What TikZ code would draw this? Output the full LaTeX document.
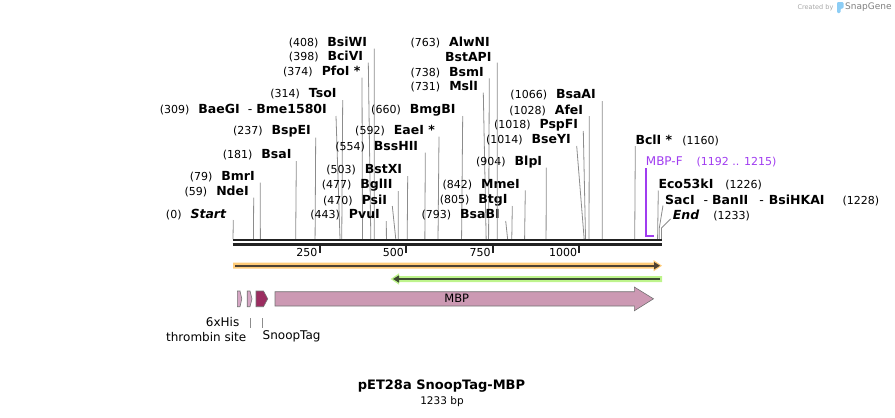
\documentclass[tikz,border=0pt]{standalone}
\usepackage{fontspec}
\setmainfont{DejaVu Sans}
\usetikzlibrary{arrows.meta, calc}

\newcommand{\numsize}{\fontsize{11}{13}\selectfont\mdseries}
\newcommand{\bpx}{0.34631}

\begin{document}
\begin{tikzpicture}[
    x=1pt,
    y=-1pt,
    enzlabel/.style={inner sep=0pt, font=\fontsize{12.5}{14}\selectfont\bfseries},
    featlabel/.style={inner sep=0pt, font=\fontsize{12}{14}\selectfont},
    siteline/.style={draw=siteGray, line width=0.8pt},
    featedge/.style={draw=black!55, line width=0.6pt}
]

\definecolor{siteGray}{RGB}{140,140,140}
\definecolor{barBlack}{RGB}{34,34,34}
\definecolor{orfOrange}{RGB}{255,203,120}
\definecolor{orfOrangeDark}{RGB}{78,66,52}
\definecolor{orfGreen}{RGB}{190,244,140}
\definecolor{orfGreenDark}{RGB}{62,76,50}
\definecolor{featPink}{RGB}{204,153,179}
\definecolor{featLight}{RGB}{214,166,196}
\definecolor{featDark}{RGB}{155,45,96}
\definecolor{primerPurple}{RGB}{160,60,240}
\definecolor{logoBlue}{RGB}{140,205,245}

\useasboundingbox (0,0) rectangle (895,418);

% Cut sites left of their line: position, name, text end, text middle, line top.
\foreach \bp/\enz/\tx/\ty/\lx [count=\i] in {
    408/BsiWI/367.3/42.7/374.3,
    398/BciVI/363.3/56.7/368.3,
    374/PfoI */360.7/71.7/362,
    314/TsoI/336.7/94/342.7,
    309/BaeGI\hspace{8pt}{\mdseries-}\hspace{4pt}Bme1580I/327/110/336,
    237/BspEI/311/131.7/315.7,
    181/BsaI/291.7/155/296.3,
    79/BmrI/255/176.7/260.3,
    59/NdeI/249/191.7/253.7,
    660/BmgBI/455.7/110/462.7,
    592/EaeI */435/130.7/439,
    554/BssHII/418.3/146.7/425.3,
    503/BstXI/402.3/170/407.7,
    477/BglII/392.7/185/398.3,
    470/PsiI/387.3/200/392.3,
    443/PvuI/380/215/386.3,
    738/BsmI/484/72.3/489.3,
    731/MslI/478.3/86.7/483.3,
    1066/BsaAI/596/95/602.3,
    1028/AfeI/583.3/110/589.3,
    1018/PspFI/578.3/125/583.3,
    1014/BseYI/571/140/576.7,
    904/BlpI/542.3/161.7/546.3,
    842/MmeI/520/184.3/525.3,
    805/BtgI/507.7/200/512.3,
    793/BsaBI/500/215/505.7} {
    \node[enzlabel, anchor=east] (L\i) at (\tx,\ty) {{\numsize(\bp)}\hspace{9pt}\enz};
    \coordinate (T\i) at (\lx,{\ty+6});
    \coordinate (B\i) at ({233+\bp*\bpx},239);
    \draw[siteline] (T\i) -- (B\i);
}

% Two names share site 763, with one line.
\node[enzlabel, anchor=east] (Lalw) at (490,42.7) {{\numsize(763)}\hspace{9pt}AlwNI};
\node[enzlabel, anchor=east] (Lbst) at (491.7,56.7) {BstAPI};
\coordinate (Tbst) at (497.3,62.7);
\coordinate (Bbst) at ({233+763*\bpx},239);
\draw[siteline] (Tbst) -- (Bbst);

\node[enzlabel, anchor=east] (Lstart) at (226.7,215) {{\numsize(0)}\hspace{9pt}\textit{Start}};
\coordinate (Tstart) at (233.3,220);
\coordinate (Bstart) at (233,239);
\draw[siteline] (Tstart) -- (Bstart);

% Sites at the right end, text to the right of the line.
\node[enzlabel, anchor=west] (Rbcl) at (635.3,140) {BclI *\hspace{10pt}{\numsize(1160)}};
\coordinate (Tbcl) at (635.3,146);
\coordinate (Bbcl) at ({233+1160*\bpx},239);
\draw[siteline] (Tbcl) -- (Bbcl);

\node[featlabel, anchor=west, text=primerPurple] (Rmbpf) at (645.7,162.3) {MBP-F\hspace{14pt}{\numsize(1192 .. 1215)}};
\coordinate (Pa) at ({233+1192*\bpx},168);
\coordinate (Pb) at ({233+1192*\bpx},236);
\coordinate (Pc) at ({233+1215*\bpx},236);
\draw[primerPurple, line width=1.8pt] (Pa) -- (Pb) -- (Pc);

\node[enzlabel, anchor=west] (Reco) at (658.3,184.3) {Eco53kI\hspace{12pt}{\numsize(1226)}};
\coordinate (Teco) at (658.3,190.5);
\coordinate (Beco) at ({233+1226*\bpx},239);
\draw[siteline] (Teco) -- (Beco);

\node[enzlabel, anchor=west] (Rsac) at (665,200) {SacI\hspace{9pt}{\mdseries-}\hspace{4pt}BanII\hspace{11pt}{\mdseries-}\hspace{5pt}BsiHKAI\hspace{18pt}{\numsize(1228)}};
\coordinate (Tsac) at (663,205.5);
\coordinate (Ksac) at (659.3,228);
\coordinate (Bsac) at (659.3,239);
\draw[siteline] (Tsac) -- (Ksac) -- (Bsac);

\node[enzlabel, anchor=west] (Rend) at (672.7,215) {\textit{End}\hspace{14pt}{\numsize(1233)}};
\coordinate (Tend) at (670.5,219);
\coordinate (Kend) at (661.5,228);
\coordinate (Bend) at (661.5,239);
\draw[siteline] (Tend) -- (Kend) -- (Bend);

% Double sequence line and scale.
\draw[barBlack, line width=2.3pt] (232.7,239.8) -- (661.7,239.8);
\draw[barBlack, line width=3pt] (232.7,244.5) -- (661.7,244.5);

\foreach \t in {250, 500, 750, 1000} {
    \coordinate (k\t) at ({233+\t*\bpx},245);
    \draw[barBlack, line width=2pt] (k\t) -- ++(0,7.5);
    \node[featlabel, font=\fontsize{11}{13}\selectfont, anchor=east] (kl\t) at ($(k\t)+(-2,7.5)$) {\t};
}

% Open reading frames.
\fill[orfOrange] (233,262.7) -- (653.5,262.7) -- (653.5,260) -- (662,265.7)
    -- (653.5,271.4) -- (653.5,268.7) -- (233,268.7) -- cycle;
\draw[orfOrangeDark, line width=1.8pt, -{Triangle[length=6pt, width=7pt]}] (235,265.7) -- (660,265.7);

\fill[orfGreen] (662,276) -- (399,276) -- (399,273.3) -- (390.7,279)
    -- (399,284.7) -- (399,282) -- (662,282) -- cycle;
\draw[orfGreenDark, line width=1.8pt, -{Triangle[length=6pt, width=7pt]}] (660,279) -- (393,279);

% Features.
\filldraw[fill=featLight, featedge] (237.3,291) -- (240,291) -- (241.8,298.8)
    -- (240,306.7) -- (237.3,306.7) -- cycle;
\filldraw[fill=featLight, featedge] (247.2,291) -- (250,291) -- (252,298.8)
    -- (250,306.7) -- (247.2,306.7) -- cycle;
\filldraw[fill=featDark, featedge] (256,291) -- (263.5,291) -- (267.7,298.8)
    -- (263.5,306.7) -- (256,306.7) -- cycle;
\filldraw[fill=featPink, featedge] (275,291.7) -- (634.3,291.7) -- (634.3,287)
    -- (653.5,298.8) -- (634.3,310.8) -- (634.3,306) -- (275,306) -- cycle;
\node[featlabel, font=\fontsize{11.5}{13}\selectfont] (mbp) at (456.7,298.8) {MBP};

\node[featlabel, anchor=east] (his) at (239.5,321.7) {6xHis};
\node[featlabel] (thr) at (206.2,336.7) {thrombin site};
\node[featlabel, anchor=west] (snp) at (262.5,336.7) {SnoopTag};
\coordinate (thrA) at (250.7,318);
\coordinate (thrB) at (250.7,327.7);
\coordinate (snpA) at (262.3,318);
\coordinate (snpB) at (262.3,327.7);
\draw[siteline] (thrA) -- (thrB);
\draw[siteline] (snpA) -- (snpB);

% Title.
\node[inner sep=0pt, font=\fontsize{13}{15}\selectfont\bfseries] (title) at (441.5,386) {pET28a SnoopTag-MBP};
\node[inner sep=0pt, font=\fontsize{10.5}{12}\selectfont] (len) at (442,402) {1233 bp};

% SnapGene mark.
\node[inner sep=0pt, font=\fontsize{6.5}{8}\selectfont, text=black!35] (made) at (815.5,7.5) {Created by};
\fill[logoBlue, rounded corners=1.2pt] (837,2) -- (843.5,2) -- (843.5,8.5) -- (840.5,8.5)
    -- (840.5,13) -- (837,13) -- cycle;
\node[inner sep=0pt, font=\fontsize{9}{11}\selectfont, text=black!50, anchor=west] (sg) at (845,7.5) {SnapGene};

\end{tikzpicture}
\end{document}
